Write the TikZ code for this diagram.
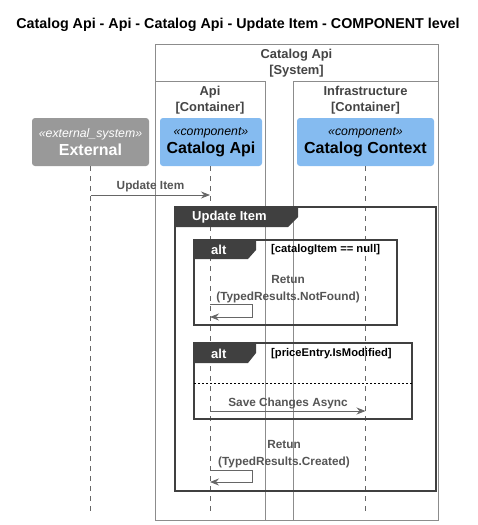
\documentclass[tikz,border=0pt]{standalone}
\usepackage{fontspec}
\setmainfont{Liberation Sans}
\usetikzlibrary{arrows.meta}
\definecolor{bordergray}{HTML}{8C8C8C}
\definecolor{framegray}{HTML}{404040}
\definecolor{extgray}{HTML}{999999}
\definecolor{compblue}{HTML}{85BBF0}
\definecolor{msggray}{HTML}{666666}
\definecolor{titlegray}{HTML}{444444}
\definecolor{lblgray}{HTML}{555555}
\begin{document}
\begin{tikzpicture}[x=1pt,y=-1pt,
  bound/.style={draw=bordergray, line width=0.8pt},
  boundtxt/.style={text=titlegray, font=\bfseries\fontsize{12.9}{16}\selectfont, align=center, inner sep=0pt},
  partbox/.style={rounded corners=3pt, minimum height=48pt, inner sep=0pt, align=center},
  lifeline/.style={draw=msggray, line width=0.6pt, dash pattern=on 5pt off 5pt},
  msg/.style={draw=msggray, line width=0.8pt, -{Stealth[length=9pt,width=7pt,inset=3pt]}},
  lbl/.style={text=lblgray, font=\bfseries\fontsize{11.8}{16.5}\selectfont, align=center, inner sep=0pt},
  bigframe/.style={draw=framegray, line width=1.6pt},
  altframe/.style={draw=framegray, line width=1.3pt},
  tabtxt/.style={text=white, font=\bfseries\fontsize{13}{14}\selectfont, anchor=west, inner sep=0pt},
  guard/.style={text=black, font=\bfseries\fontsize{11.2}{12}\selectfont, anchor=west, inner sep=0pt}
]
\useasboundingbox (0,0) rectangle (478,525);

% title
\node[font=\bfseries\fontsize{14.3}{16}\selectfont] (title) at (238,25) {Catalog Api - Api - Catalog Api - Update Item - COMPONENT level};

% boundaries
\draw[bound] (155,44) rectangle (438,520);
\node[boundtxt] (systxt) at (296.5,63) {Catalog Api\\{}[System]};
\draw[bound] (155,81) rectangle (265,520);
\node[boundtxt] (apitxt) at (210,100) {Api\\{}[Container]};
\draw[bound] (293,81) rectangle (438,520);
\node[boundtxt] (infratxt) at (365.5,100) {Infrastructure\\{}[Container]};

% participants
\node[partbox, fill=extgray, text=white, minimum width=117pt] (ext) at (90.5,142)
  {{\itshape\fontsize{12.3}{13}\selectfont «external\_system»}\\[2.5pt]{\bfseries\fontsize{16}{18}\selectfont External}};
\node[partbox, fill=compblue, text=black, minimum width=102pt] (capi) at (211,142)
  {{\itshape\fontsize{12.3}{13}\selectfont «component»}\\[2.5pt]{\bfseries\fontsize{16}{18}\selectfont Catalog Api}};
\node[partbox, fill=compblue, text=black, minimum width=137pt] (cctx) at (365.5,142)
  {{\itshape\fontsize{12.3}{13}\selectfont «component»}\\[2.5pt]{\bfseries\fontsize{16}{18}\selectfont Catalog Context}};

% lifelines
\coordinate (extend) at (90.5,512);
\coordinate (capiend) at (210,512);
\coordinate (cctxend) at (365.5,512);
\draw[lifeline] (ext.south) -- (extend);
\draw[lifeline] (capiend |- capi.south) -- (capiend);
\draw[lifeline] (cctx.south) -- (cctxend);

% message 1
\coordinate (m1a) at (90.5,195);
\coordinate (m1b) at (210,195);
\draw[msg] (m1a) -- (m1b);
\node[lbl] (m1l) at (150.5,186.5) {Update Item};

% group frame
\draw[bigframe] (175,207) rectangle (436,491);
\fill[framegray] (175,207) -- (298,207) -- (298,217) -- (288,227) -- (175,227) -- cycle;
\node[tabtxt] (grp) at (192,217) {Update Item};

% alt 1
\draw[altframe] (194,240) rectangle (397,325);
\fill[framegray] (194,240) -- (256,240) -- (256,250) -- (248,259) -- (194,259) -- cycle;
\node[tabtxt] (alt1) at (211,250) {alt};
\node[guard] (g1) at (271,250) {[catalogItem == null]};
\node[lbl] (r1l) at (288,289) {Retun\\(TypedResults.NotFound)};
\coordinate (s1a) at (210,304);
\coordinate (s1b) at (252,304);
\coordinate (s1c) at (252,317);
\coordinate (s1d) at (210,317);
\draw[msg] (s1a) -- (s1b) -- (s1c) -- (s1d);

% alt 2
\draw[altframe] (194,343) rectangle (412,419);
\fill[framegray] (194,343) -- (256,343) -- (256,353) -- (248,363) -- (194,363) -- cycle;
\node[tabtxt] (alt2) at (211,354) {alt};
\node[guard] (g2) at (271,354) {[priceEntry.IsModified]};
\coordinate (sepa) at (194,383);
\coordinate (sepb) at (412,383);
\draw[black, line width=0.6pt, dash pattern=on 2pt off 2pt] (sepa) -- (sepb);
\coordinate (m2a) at (210,411);
\coordinate (m2b) at (365.5,411);
\draw[msg] (m2a) -- (m2b);
\node[lbl] (m2l) at (288,403) {Save Changes Async};

% final return
\node[lbl] (r2l) at (284,454) {Retun\\(TypedResults.Created)};
\coordinate (s2a) at (210,470);
\coordinate (s2b) at (252,470);
\coordinate (s2c) at (252,482);
\coordinate (s2d) at (210,482);
\draw[msg] (s2a) -- (s2b) -- (s2c) -- (s2d);
\end{tikzpicture}
\end{document}
